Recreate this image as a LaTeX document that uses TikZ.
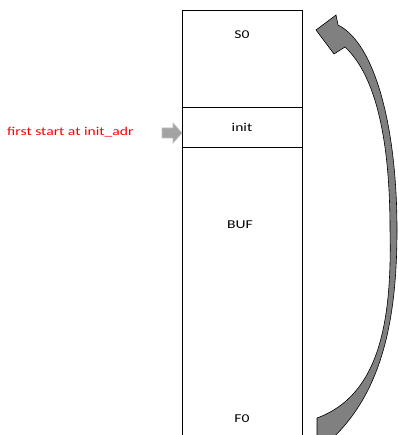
\documentclass[tikz,border=0pt]{standalone}
\usepackage{fontspec}
\newfontfamily\lblfont[FakeStretch=1.3]{Carlito}
\definecolor{arrgray}{HTML}{808080}
\definecolor{smallgray}{HTML}{A3A3A3}
\definecolor{smalledge}{HTML}{C0C0C0}
\begin{document}
\begin{tikzpicture}[x=1pt,y=-1pt,
  lbl/.style={font=\lblfont\fontsize{12}{14}\selectfont, inner sep=0pt, anchor=base},
  boxline/.style={line width=0.9pt, black},
  bigarrow/.style={fill=arrgray, draw=black, line width=0.6pt, line join=miter},
  smallarrow/.style={fill=smallgray, draw=smalledge, line width=0.6pt}]
\useasboundingbox (0,0) rectangle (398,435);
\fill[white] (0,0) rectangle (398,435);
% memory column
\draw[boxline] (182,435) -- (182,10) -- (302,10) -- (302,435);
\draw[boxline] (182,107) -- (302,107);
\draw[boxline] (182,147) -- (302,147);
% labels
\node[lbl] (s0) at (242,39) {S0};
\node[lbl] (init) at (242,132) {init};
\node[lbl] (buf) at (240,228) {BUF};
\node[lbl] (f0) at (242,422) {F0};
\node[lbl, text=red, anchor=base west] (first) at (7,136) {first start at init\_adr};
% small entry arrow
\coordinate (tip) at (182,133);
\draw[smallarrow] (162,128) -- (173,128) -- (173,123) -- (tip) -- (173,143) -- (173,138) -- (162,138) -- cycle;
% curved return arrow
\begin{scope}
\clip (0,0) rectangle (398,435);
\draw[bigarrow] (316,30) -- (336,15) -- (338,25)
  .. controls (376,44) and (397,130) .. (397,230)
  .. controls (397,330) and (378,400) .. (325,445)
  -- (317,445) -- (317,418)
  .. controls (380,395) and (392,320) .. (390,230)
  .. controls (390,140) and (376,76) .. (345,47)
  -- (334,54) -- cycle;
\end{scope}
\end{tikzpicture}
\end{document}
